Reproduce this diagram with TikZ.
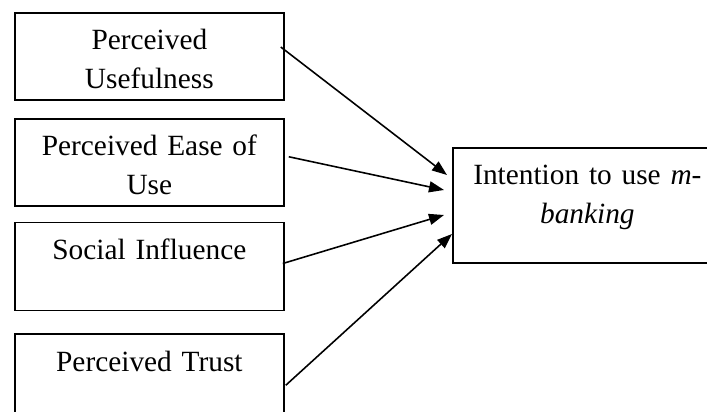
\documentclass[tikz,border=0pt]{standalone}
\usepackage{fontspec}
\setmainfont{Liberation Serif}
\usepackage{tikz}
\usetikzlibrary{arrows.meta,positioning}

\begin{document}
\begin{tikzpicture}[
  factor/.style={rectangle, draw, line width=1pt, anchor=north west,
                 text width=5.18cm, inner xsep=0.1cm, inner ysep=0pt,
                 align=center, text height=0.74cm, text depth=1.0cm,
                 font=\fontsize{16.7}{22.1}\selectfont},
  outcome/.style={factor, text depth=1.56cm},
  link/.style={line width=0.9pt, -{Triangle[length=0.3cm,width=0.22cm]}},
]
  \useasboundingbox (0,0) rectangle (14.14,-8.24);

  % Predictors
  \node[factor] (pu) at (0.28,-0.24) {Perceived\\Usefulness};
  \node[factor, below=0.34cm of pu] (peou) {Perceived Ease of\\Use};
  \node[factor, below=0.30cm of peou, text depth=1.02cm] (si) {Social Influence};
  \node[factor, below=0.44cm of si, text depth=1.06cm] (pt) {Perceived Trust};

  % Outcome
  \node[outcome] (int) at (9.04,-2.94) {Intention to use \emph{m-}\\\emph{banking}};

  % Paths
  \draw[link] ([xshift=-0.08cm,yshift=-0.70cm]pu.north east)
              -- ([xshift=-0.10cm,yshift=-0.56cm]int.north west);
  \draw[link] ([xshift=0.08cm,yshift=-0.78cm]peou.north east)
              -- ([xshift=-0.16cm,yshift=-0.86cm]int.north west);
  \draw[link] ([xshift=-0.04cm,yshift=-0.84cm]si.north east)
              -- ([xshift=-0.16cm,yshift=-1.36cm]int.north west);
  \draw[link] ([xshift=0.02cm,yshift=-1.04cm]pt.north east)
              -- ([yshift=-1.74cm]int.north west);
\end{tikzpicture}
\end{document}
